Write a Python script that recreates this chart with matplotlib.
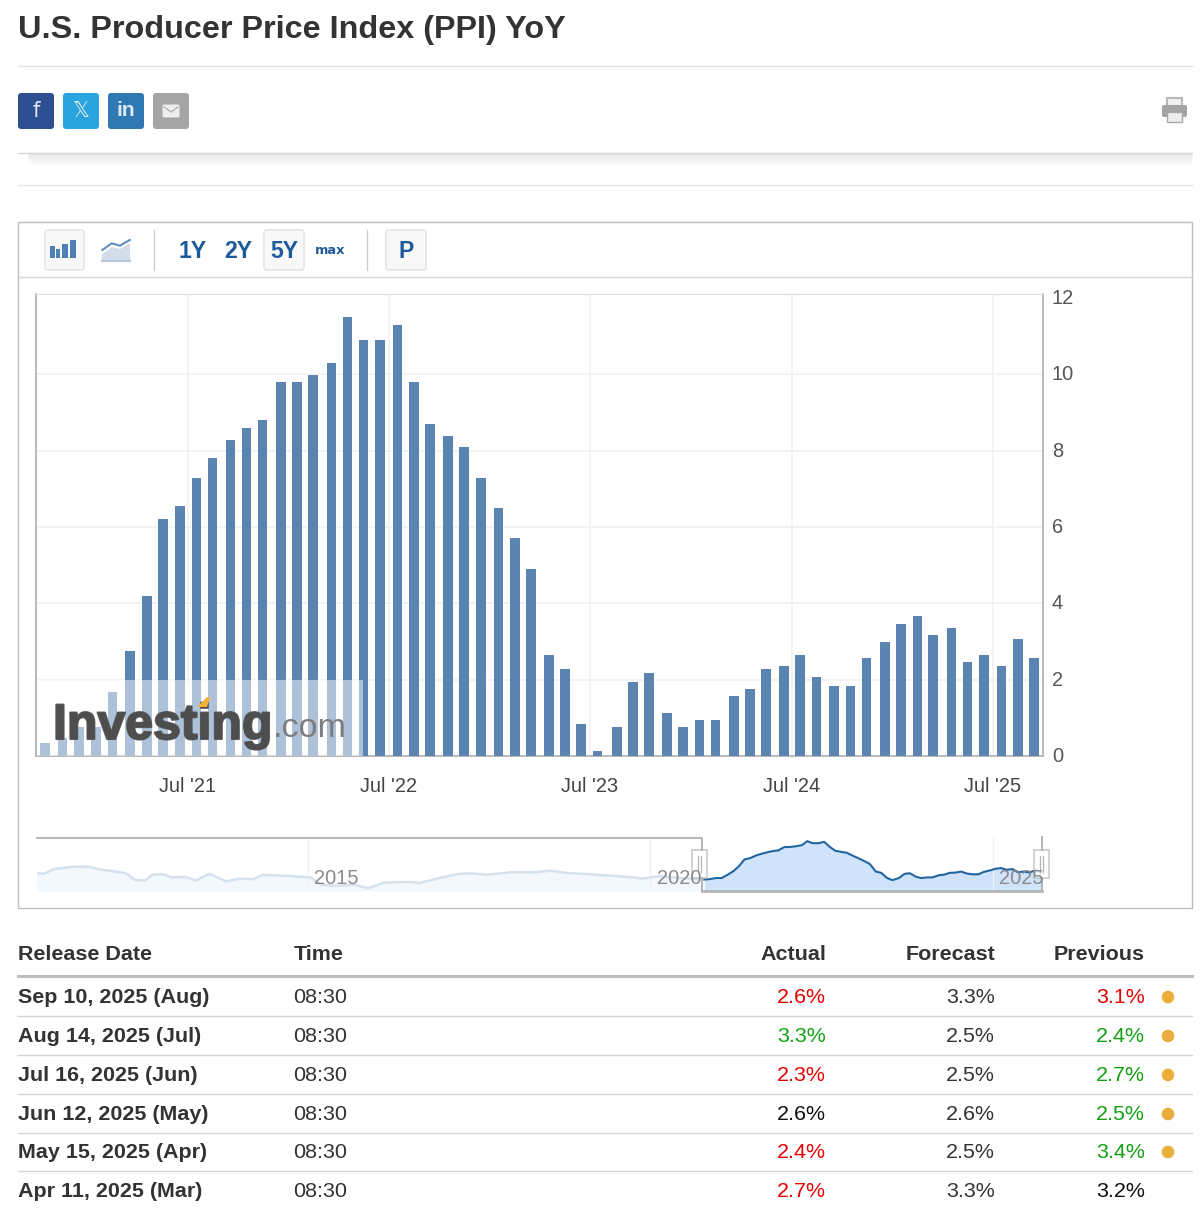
import numpy as np
import pandas as pd
import matplotlib
matplotlib.use('Agg')
import matplotlib.pyplot as plt
import matplotlib.patheffects as pe
from matplotlib.patches import FancyBboxPatch, Rectangle, Circle, Polygon
from matplotlib.transforms import ScaledTranslation

plt.rcParams['font.family'] = ['Liberation Sans', 'DejaVu Sans']

# dates and yoy values of the bars
release_dates = pd.to_datetime([
    '2020-10-15', '2020-11-16', '2020-12-16', '2021-01-16', '2021-02-15', '2021-03-19',
    '2021-04-18', '2021-05-18', '2021-06-17', '2021-07-17', '2021-08-15', '2021-09-17',
    '2021-10-16', '2021-11-14', '2021-12-17', '2022-01-15', '2022-02-13', '2022-03-19',
    '2022-04-17', '2022-05-16', '2022-06-15', '2022-07-17', '2022-08-16', '2022-09-14',
    '2022-10-17', '2022-11-15', '2022-12-15', '2023-01-16', '2023-02-15', '2023-03-16',
    '2023-04-18', '2023-05-17', '2023-06-15', '2023-07-15', '2023-08-19', '2023-09-17',
    '2023-10-16', '2023-11-18', '2023-12-17', '2024-01-16', '2024-02-14', '2024-03-18',
    '2024-04-16', '2024-05-16', '2024-06-17', '2024-07-16', '2024-08-15', '2024-09-16',
    '2024-10-16', '2024-11-14', '2024-12-17', '2025-01-15', '2025-02-14', '2025-03-15',
    '2025-04-17', '2025-05-16', '2025-06-15', '2025-07-17', '2025-08-16', '2025-09-14'])
ppi_values = [0.34, 0.48, 0.77, 0.77, 1.67, 2.75, 4.2, 6.2, 6.55, 7.29,
              7.8, 8.27, 8.6, 8.8, 9.79, 9.79, 9.98, 10.3, 11.49, 10.9,
              10.9, 11.28, 9.79, 8.7, 8.37, 8.1, 7.29, 6.5, 5.7, 4.9,
              2.65, 2.28, 0.85, 0.15, 0.76, 1.95, 2.18, 1.14, 0.76, 0.95,
              0.95, 1.57, 1.75, 2.28, 2.36, 2.65, 2.08, 1.85, 1.85, 2.56,
              2.98, 3.45, 3.67, 3.17, 3.36, 2.46, 2.65, 2.36, 3.07, 2.56]
y_ticks = [0, 2, 4, 6, 8, 10, 12]
x_tick_dates = pd.to_datetime(['2021-07-01', '2022-07-01', '2023-07-01', '2024-07-01', '2025-07-01'])
x_tick_labels = ["Jul '21", "Jul '22", "Jul '23", "Jul '24", "Jul '25"]

# navigator history before the selected range
hist_years = [2011.04, 2011.14, 2011.29, 2011.54, 2011.78, 2011.93, 2012.33, 2012.47, 2012.62, 2012.72, 2012.87,
              2013.01, 2013.21, 2013.36, 2013.56, 2013.8, 2014.0, 2014.2, 2014.34, 2014.69, 2015.04, 2015.19,
              2015.43, 2015.68, 2015.88, 2016.12, 2016.52, 2016.62, 2016.96, 2017.2, 2017.41, 2017.6, 2018.0,
              2018.3, 2018.54, 2018.79, 2019.09, 2019.23, 2019.48, 2019.77, 2019.87, 2020.12, 2020.77]
hist_values = [2.2, 2.0, 3.4, 4.0, 4.1, 3.4, 2.2, 0.25, 0.06, 1.7, 1.9,
               0.95, 1.1, 0.06, 2.0, -0.2, 0.55, 0.45, 1.7, 1.4, 0.95, -1.2,
               -1.5, -1.2, -2.2, -0.5, -0.4, -0.7, 0.95, 2.0, 2.1, 1.7, 2.5,
               2.4, 2.9, 2.2, 1.9, 1.7, 1.4, 0.95, 0.55, 1.3, 0.3]
nav_labels = ['2015', '2020', '2025']

table_header = ['Release Date', 'Time', 'Actual', 'Forecast', 'Previous']
table_dates = ['Sep 10, 2025 (Aug)', 'Aug 14, 2025 (Jul)', 'Jul 16, 2025 (Jun)',
               'Jun 12, 2025 (May)', 'May 15, 2025 (Apr)', 'Apr 11, 2025 (Mar)']
table_time = ['08:30'] * 6
table_actual = ['2.6%', '3.3%', '2.3%', '2.6%', '2.4%', '2.7%']
table_forecast = ['3.3%', '2.5%', '2.5%', '2.6%', '2.5%', '3.3%']
table_previous = ['3.1%', '2.4%', '2.7%', '2.5%', '3.4%', '3.2%']
actual_colors = ['#e60000', '#12a012', '#e60000', '#111111', '#e60000', '#e60000']
previous_colors = ['#e60000', '#12a012', '#12a012', '#12a012', '#12a012', '#111111']

W, H = 1202, 1216
fig = plt.figure(figsize=(W / 100, H / 100), dpi=100, facecolor='white')


def px_axes(left, top, right, bottom, **kw):
    return fig.add_axes([left / W, 1 - bottom / H, (right - left) / W, (bottom - top) / H], **kw)


def fs(px):
    return px * 0.72


# main bar chart
ax = px_axes(36, 294.3, 1043, 756.3)
ax.bar(release_dates, ppi_values, width=17.5, color='#5b84b1', zorder=3)
ax.set_xlim(pd.Timestamp('2020-09-29'), pd.Timestamp('2025-09-30'))
ax.set_ylim(0, 12.09)
ax.set_yticks(y_ticks)
ax.yaxis.tick_right()
ax.set_xticks(x_tick_dates)
ax.set_xticklabels(x_tick_labels)
ax.tick_params(axis='x', length=0, pad=14.8, labelsize=fs(20), labelcolor='#444444')
ax.tick_params(axis='y', length=0, pad=6.4, labelsize=fs(20), labelcolor='#555555')
ax.grid(True, color='#f1f1f1', linewidth=1.2, zorder=0)
ax.yaxis.get_gridlines()[-1].set_visible(False)
# labels sit a little above their grid lines
for lab in ax.yaxis.get_ticklabels():
    lab.set_transform(lab.get_transform() + ScaledTranslation(0, 1.5 / 100, fig.dpi_scale_trans))
for side in ['left', 'bottom', 'right']:
    ax.spines[side].set_color('#b4b4b4')
    ax.spines[side].set_linewidth(1.3)
ax.spines['top'].set_color('#e0e0e0')

# navigator under the chart
nav = px_axes(37, 837, 1042, 891)
sel_years = [d.year + (d.dayofyear - 1) / 365.25 for d in release_dates]
nav.fill_between(hist_years, hist_values, -3, color='#f3f8fe', linewidth=0)
nav.plot(hist_years, hist_values, color='#d5e2ee', linewidth=1.8)
nav.fill_between(sel_years, ppi_values, -3, color='#cfe3fb', linewidth=0)
nav.plot(sel_years, ppi_values, color='#22659f', linewidth=1.5)
nav.set_xlim(2011.04, 2025.72)
nav.set_ylim(-3, 12.7)
nav.set_xticks([2015, 2020, 2025])
nav.set_xticklabels([])
nav.set_yticks([])
nav.tick_params(axis='x', length=0)
nav.grid(True, axis='x', color='#f1f1f1', linewidth=1)
nav.patch.set_alpha(0)
for s in nav.spines.values():
    s.set_visible(False)

# everything else sits on a page layer in pixel coordinates
page = fig.add_axes([0, 0, 1, 1], zorder=5)
page.set_xlim(0, W)
page.set_ylim(H, 0)
page.axis('off')
page.patch.set_alpha(0)

page.text(18, 30, 'U.S. Producer Price Index (PPI) YoY', fontsize=fs(32.4), fontweight='bold',
          color='#333333', va='center', ha='left')
page.plot([18, 1192], [65.5, 65.5], color='#e3e3e3', lw=1)
page.plot([18, 1192], [184.5, 184.5], color='#e3e3e3', lw=1)

# shadow below the share bar
for i in range(12):
    page.plot([28, 1192], [153 + i, 153 + i], color='black', alpha=0.012 * (12 - i) / 2, lw=1, solid_capstyle='butt')
page.plot([18, 1192], [152.5, 152.5], color='#d8d8d8', lw=1)

# share buttons
share_x = [18, 63, 108, 153]
share_colors = ['#2e4f92', '#2aa4de', '#2f78b4', '#a5a5a5']
share_glyphs = ['f', '\U0001D54F', 'in', '']
for x0, c, g in zip(share_x, share_colors, share_glyphs):
    page.add_patch(FancyBboxPatch((x0 + 2, 95), 32, 32, boxstyle='round,pad=2,rounding_size=3', fc=c, ec='none'))
    if g:
        page.text(x0 + 18, 111, g, color='#dfe9f4', fontsize=fs(21), fontweight='bold' if g == 'in' else 'normal',
                  ha='center', va='center', family=['DejaVu Sans'] if g != 'in' else ['Liberation Sans'])
page.add_patch(FancyBboxPatch((163, 105), 16, 12, boxstyle='round,pad=0.5,rounding_size=1.5', fc='#eeeeee', ec='none'))
page.plot([164, 171, 178], [107, 112, 107], color='#b5b5b5', lw=1)

# printer icon
page.add_patch(Rectangle((1167, 98), 15, 8, fc='#f2f2f2', ec='#b8b8b8', lw=1.5))
page.add_patch(FancyBboxPatch((1162, 105), 25, 12, boxstyle='round,pad=0,rounding_size=2', fc='#a4a4a4', ec='none'))
page.add_patch(Rectangle((1167, 112), 15, 10, fc='#eeeeee', ec='#a8a8a8', lw=1))

# chart box and toolbar
page.add_patch(Rectangle((17.5, 221.5), 1174, 686, fc='none', ec='#bdbdbd', lw=1))
page.plot([17.5, 1191.5], [276.5, 276.5], color='#d5d5d5', lw=1)
for x0, w in [(45, 39), (264, 40), (386, 40)]:
    page.add_patch(FancyBboxPatch((x0 + 2, 232), w - 4, 36, boxstyle='round,pad=2,rounding_size=2.5',
                                  fc='#f8f8f8', ec='#e2e2e2', lw=1))
for x0 in [153.5, 366.5]:
    page.plot([x0, x0], [230, 270], color='#cfcfcf', lw=1)
for lab, x0 in zip(['1Y', '2Y', '5Y', 'P'], [193, 238, 284, 406]):
    page.text(x0, 251, lab, fontsize=fs(23), fontweight='bold', color='#1d5a9a', ha='center', va='center')
page.text(330, 251, 'max', fontsize=fs(13), fontweight='bold', color='#1d5a9a', ha='center', va='center',
          family=['DejaVu Sans'])

# bar icon
for x0, y0, bw in zip([49.5, 56, 62, 70], [246, 249, 244, 240], [5, 4, 6, 6]):
    page.add_patch(Rectangle((x0, y0), bw, 258 - y0, fc='#4f7fb3', ec='none'))
# area icon
page.add_patch(Polygon([(102, 254), (112, 247), (120, 249), (130, 243), (130, 262), (102, 262)],
                       fc='#d3deea', ec='none'))
page.plot([102, 130], [261, 261], color='#b5c8dc', lw=1.5)
page.plot([102.3, 111.7, 120, 129.7], [250, 243.3, 245.7, 240], color='#5f8fbd', lw=1.5)

# watermark
page.add_patch(Rectangle((37, 680), 326, 76, fc='white', alpha=0.5, ec='none'))
page.text(53, 739, 'Investing', fontsize=fs(50), fontweight='bold', color='#4d4d4d', alpha=0.9,
          ha='left', va='baseline', path_effects=[pe.withStroke(linewidth=1.5, foreground='#4d4d4d')])
page.text(273, 737, '.com', fontsize=fs(34), color='#7d7d7d', ha='left', va='baseline')
page.add_patch(Polygon([(197, 707), (207, 697), (210, 697), (207, 707)], fc='#f0b43c', ec='none', zorder=4))

# navigator frame and handles
page.plot([37, 702, 702], [837.5, 837.5, 850], color='#b5b5b5', lw=1.4)
page.plot([702, 1041.5], [891, 891], color='#b5b5b5', lw=2)
page.plot([702, 702], [878, 891], color='#b5b5b5', lw=1.4)
page.plot([1041.5, 1041.5], [837, 850], color='#b5b5b5', lw=1.4)
page.plot([1041.5, 1041.5], [878, 891], color='#b5b5b5', lw=1.4)
for x0 in [692, 1034]:
    page.add_patch(Rectangle((x0, 850), 14.5, 28, fc='#ffffff', alpha=0.7, ec='#b5b5b5', lw=1.2))
    page.plot([x0 + 6, x0 + 6], [856, 872], color='#b5b5b5', lw=0.9)
    page.plot([x0 + 9, x0 + 9], [856, 872], color='#b5b5b5', lw=0.9)
for lab, x0 in zip(nav_labels, [336, 679.5, 1021.5]):
    page.text(x0, 878.5, lab, fontsize=fs(20), color='#8a8a8a', ha='center', va='center')

# release table
header_x = [18, 294, 826, 995, 1145]
header_ha = ['left', 'left', 'right', 'right', 'right']
for lab, x0, ha in zip(table_header, header_x, header_ha):
    page.text(x0, 955, lab, fontsize=fs(21.5), fontweight='bold', color='#333333', ha=ha, va='center')
page.plot([18, 1192], [975.5, 975.5], color='#bdbdbd', lw=2.2)
row_y = [997.5, 1036.5, 1075.5, 1114.5, 1152.5, 1191.5]
rule_y = [1015.5, 1054.5, 1093.5, 1132.5, 1170.5]
for yy in rule_y:
    page.plot([18, 1192], [yy, yy], color='#d5d5d5', lw=1)
for i, yy in enumerate(row_y):
    page.text(18, yy, table_dates[i], fontsize=fs(21.5), fontweight='bold', color='#333333', ha='left', va='center')
    page.text(293, yy, table_time[i], fontsize=fs(21.5), color='#333333', ha='left', va='center')
    page.text(826, yy, table_actual[i], fontsize=fs(21.5), color=actual_colors[i], ha='right', va='center')
    page.text(995, yy, table_forecast[i], fontsize=fs(21.5), color='#333333', ha='right', va='center')
    page.text(1145, yy, table_previous[i], fontsize=fs(21.5), color=previous_colors[i], ha='right', va='center')
    if i < 5:
        page.add_patch(Circle((1168, yy - 0.5), 6.3, fc='#e9ae3c', ec='none'))

fig.savefig('out.png', dpi=100)
